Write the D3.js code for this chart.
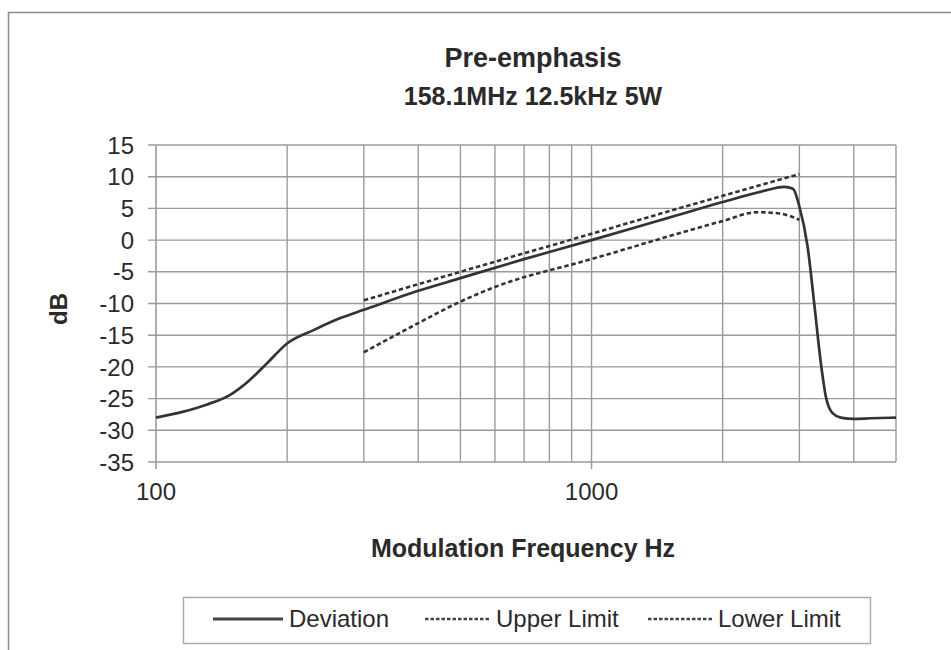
<!DOCTYPE html>
<html><head><meta charset="utf-8">
<script src="https://cdn.jsdelivr.net/npm/d3@7"></script>
<style>html,body{margin:0;padding:0;background:#fff}svg{display:block}</style>
</head><body>
<svg id="c" width="951" height="650"></svg>
<script>
const titleLines = ["Pre-emphasis", "158.1MHz 12.5kHz 5W"];
const xLabel = "Modulation Frequency Hz";
const yLabel = "dB";
const seriesNames = ["Deviation", "Upper Limit", "Lower Limit"];
const yTicks = [15, 10, 5, 0, -5, -10, -15, -20, -25, -30, -35];
const xTickLabels = [100, 1000];
const xGrid = [200,300,400,500,600,700,800,900,1000,2000,3000,4000,5000];

const deviationF = [100,115,130,148,164,180,200,230,265,300,400,500,700,1000,1500,2000,2500,2767,2900,3000,3133,3245,3361,3451,3575,3735,4000,4375,5000];
const deviationDB = [-28,-27.1,-26,-24.4,-22.1,-19.4,-16.3,-14.2,-12.3,-11,-8,-6,-3,0,3.5,6,7.8,8.4,8.1,5.3,-1,-10,-19.4,-24.7,-27.3,-28,-28.2,-28.1,-28];
const upperF = [300,500,1000,2000,3000];
const upperDB = [-9.5,-5,1,7,10.4];
const lowerF = [300,400,500,600,1000,2000,2400,2700,3000];
const lowerDB = [-17.7,-13.1,-9.7,-7.4,-3,3,4.4,4.2,3.2];

const svg = d3.select("#c");
const font = "'Liberation Sans', Arial, sans-serif";
const gridColor = "#9a9a9a";
const inkColor = "#2a2a2a";

// outer border
svg.append("rect").attr("x",8.5).attr("y",12.5).attr("width",1200).attr("height",1200)
  .attr("fill","none").attr("stroke","#8a8a8a").attr("stroke-width",1.5);

const x = d3.scaleLog().domain([100,5000]).range([156,896]);
const y = d3.scaleLinear().domain([-35,15]).range([462,145]);

// grid
const g = svg.append("g");
g.selectAll(".hg").data(yTicks).join("line")
  .attr("x1",148).attr("x2",x(5000)).attr("y1",d=>y(d)).attr("y2",d=>y(d))
  .attr("stroke",gridColor).attr("stroke-width",1.4);
g.selectAll(".vg").data(xGrid).join("line")
  .attr("x1",d=>x(d)).attr("x2",d=>x(d)).attr("y1",y(15)).attr("y2",y(-35))
  .attr("stroke",gridColor).attr("stroke-width",1.4);
g.append("line").attr("x1",x(100)).attr("x2",x(100)).attr("y1",y(15)).attr("y2",y(-35)+7)
  .attr("stroke",gridColor).attr("stroke-width",1.6);
g.append("line").attr("x1",x(1000)).attr("x2",x(1000)).attr("y1",y(-35)).attr("y2",y(-35)+7)
  .attr("stroke",gridColor).attr("stroke-width",1.4);

// y tick labels
svg.selectAll(".yt").data(yTicks).join("text")
  .attr("x",134).attr("y",d=>y(d)).attr("dy","0.36em")
  .attr("text-anchor","end").attr("font-family",font).attr("font-size",24)
  .attr("fill",inkColor).text(d=>d);
// x tick labels
svg.selectAll(".xt").data(xTickLabels).join("text")
  .attr("x",d=>x(d)).attr("y",500).attr("text-anchor","middle")
  .attr("font-family",font).attr("font-size",24).attr("fill",inkColor).text(d=>d);

// titles
svg.selectAll(".title").data(titleLines).join("text")
  .attr("x",533).attr("y",(d,i)=>67+i*38).attr("text-anchor","middle")
  .attr("font-family",font).attr("font-weight","bold").attr("font-size",(d,i)=>i===0?27:25)
  .attr("fill",inkColor).text(d=>d);
svg.append("text").attr("x",523).attr("y",557).attr("text-anchor","middle")
  .attr("font-family",font).attr("font-weight","bold").attr("font-size",25)
  .attr("fill",inkColor).text(xLabel);
svg.append("text").attr("transform","translate(67,309) rotate(-90)").attr("text-anchor","middle")
  .attr("font-family",font).attr("font-weight","bold").attr("font-size",24)
  .attr("fill",inkColor).text(yLabel);

// lines
const line = d3.line().x(d=>x(d[0])).y(d=>y(d[1])).curve(d3.curveMonotoneX);
const series = [
  {pts: d3.zip(upperF, upperDB), dash:"4.5,2.8", w:2.6},
  {pts: d3.zip(lowerF, lowerDB), dash:"4.5,2.8", w:2.6},
  {pts: d3.zip(deviationF, deviationDB), dash:null, w:2.7}
];
svg.selectAll(".s").data(series).join("path")
  .attr("d",d=>line(d.pts)).attr("fill","none").attr("stroke","#333")
  .attr("stroke-width",d=>d.w).attr("stroke-dasharray",d=>d.dash)
  .attr("stroke-linejoin","round");

// legend
const lg = svg.append("g");
lg.append("rect").attr("x",183.5).attr("y",597.5).attr("width",687).attr("height",46)
  .attr("fill","#fff").attr("stroke","#a8a8a8").attr("stroke-width",1.4);
const legItems = [
  {name: seriesNames[0], x1:213, x2:283, dash:null, w:3.2},
  {name: seriesNames[1], x1:425, x2:490, dash:"3.5,2", w:2.4},
  {name: seriesNames[2], x1:648, x2:712, dash:"3.5,2", w:2.4}
];
legItems.forEach(it=>{
  lg.append("line").attr("x1",it.x1).attr("x2",it.x2).attr("y1",619).attr("y2",619)
    .attr("stroke","#444").attr("stroke-width",it.w).attr("stroke-dasharray",it.dash);
  lg.append("text").attr("x",it.x2+6).attr("y",627).attr("font-family",font)
    .attr("font-size",24).attr("fill",inkColor).text(it.name);
});
</script>
</body></html>
